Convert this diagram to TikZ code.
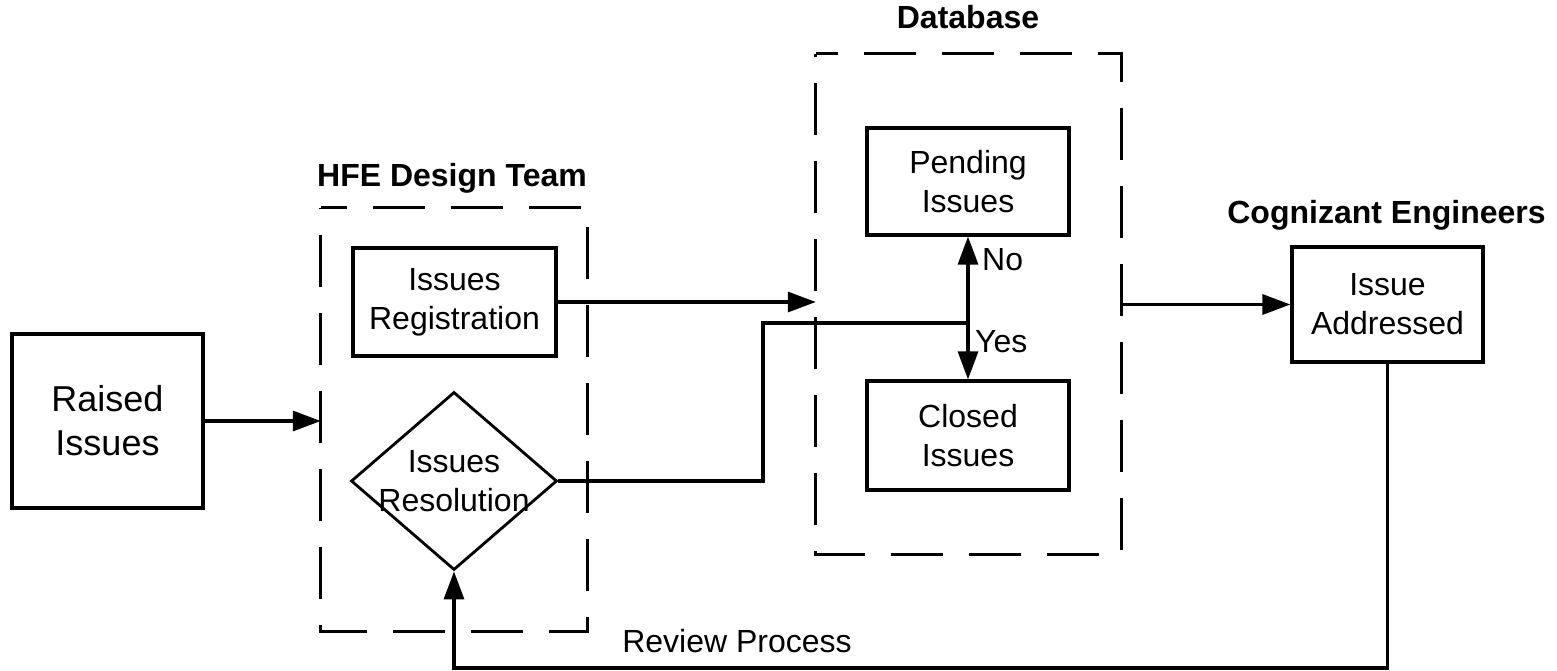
\documentclass[tikz,border=0pt]{standalone}
\usepackage{fontspec}
\setmainfont{Liberation Sans}
\usetikzlibrary{arrows.meta,shapes.geometric,calc}
\begin{document}
\begin{tikzpicture}[x=1pt,y=-1pt,
  box/.style={draw, line width=3.2pt, inner sep=0pt, align=center, font=\fontsize{32}{39}\selectfont},
  grp/.style={draw, line width=3.2pt, dash pattern=on 52pt off 26pt},
  lbl/.style={font=\fontsize{32}{39}\selectfont\bfseries, anchor=base, inner sep=0pt},
  txt/.style={font=\fontsize{32}{39}\selectfont, inner sep=0pt},
  line/.style={line width=3.2pt},
  arr/.style={line width=3.2pt, -{Triangle[length=28pt,width=20pt]}},
  darr/.style={line width=3.2pt, {Triangle[length=28pt,width=20pt]}-{Triangle[length=28pt,width=20pt]}}]
\useasboundingbox (0,0) rectangle (1557,671);
% containers
\node[minimum width=266pt, minimum height=423pt, inner sep=0pt] (hfe) at (454,419.5) {};
\node[minimum width=305pt, minimum height=500pt, inner sep=0pt] (db) at (968.5,304) {};
\draw[grp, dash phase=26pt] (hfe.north west) -- (hfe.north east) -- (hfe.south east) -- (hfe.south west) -- cycle;
\draw[grp, dash phase=30pt] (db.north west) -- (db.north east) -- (db.south east) -- (db.south west) -- cycle;
% boxes
\node[box, minimum width=191pt, minimum height=174pt, font=\fontsize{36}{44}\selectfont] (raised) at (107.5,421) {Raised\\Issues};
\node[box, minimum width=203pt, minimum height=108pt] (reg) at (454.5,302) {Issues\\Registration};
\node[draw, diamond, line width=2.8pt, minimum width=206pt, minimum height=178pt, inner sep=0pt] (res) at (454,481) {};
\node[txt, align=center] (restxt) at (res.center) {Issues\\Resolution};
\node[box, minimum width=202pt, minimum height=107pt] (pend) at (968,181.5) {Pending\\Issues};
\node[box, minimum width=202pt, minimum height=109pt] (closed) at (968,435.5) {Closed\\Issues};
\node[box, minimum width=191pt, minimum height=115pt] (addr) at (1387.5,304.5) {Issue\\Addressed};
% labels
\node[lbl] (hfel) at (452,187) {HFE Design Team};
\node[lbl] (dbl) at (968,29) {Database};
\node[lbl] (cel) at (1386.5,223) {Cognizant Engineers};
\node[txt, anchor=base west] (no) at (982,270) {No};
\node[txt, anchor=base west] (yes) at (975,352) {Yes};
\node[txt, anchor=base] (rev) at (737,652) {Review Process};
% connectors
\draw[arr] (raised.east) -- (raised.east -| hfe.west);
\draw[arr] (reg.east) -- (reg.east -| db.west);
\coordinate (bend) at (763,323);
\coordinate (j) at (968,323);
\draw[line] (res.east) -| (bend) -- (j);
\draw[darr] (pend.south) -- (closed.north);
\draw[arr] (db.east |- addr.west) -- (addr.west);
\coordinate (fb) at (454,668);
\draw[arr] (addr.south) |- (fb) -- (res.south);
\end{tikzpicture}
\end{document}
